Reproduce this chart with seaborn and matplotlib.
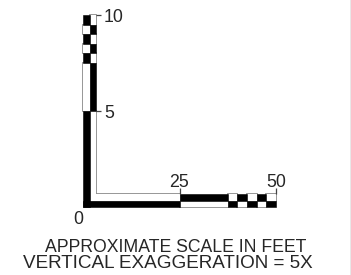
import matplotlib
matplotlib.use("Agg")
import matplotlib.pyplot as plt
import seaborn as sns

# scale bar segments (feet) and fill of the outer / inner strip
v_edges = [0, 5, 7.5, 8, 8.5, 9, 9.5, 10]
v_outer = ["k", "w", "k", "w", "k", "w", "k"]
v_inner = ["w", "k", "w", "k", "w", "k", "w"]

h_edges = [0, 25, 37.5, 40, 42.5, 45, 47.5, 50]
h_outer = ["k", "w", "k", "w", "k", "w", "k"]
h_inner = ["w", "k", "w", "k", "w", "k", "w"]

v_ticks = [5, 10]
h_ticks = [25, 50]
title_lines = ["APPROXIMATE SCALE IN FEET", "VERTICAL EXAGGERATION = 5X"]

sns.set_style("white")
plt.rcParams["font.family"] = ["Liberation Sans", "DejaVu Sans"]

W, H, DPI = 351, 275, 100
px_x, px_y = 3.86, 19.2      # pixels per foot
ox, oy = 83, 68              # origin in pixels from left / bottom
strip_x = 6.5 / px_x         # strip thickness in horizontal feet
strip_y = 6.5 / px_y         # strip thickness in vertical feet

fig = plt.figure(figsize=(W / DPI, H / DPI), dpi=DPI)
aw = 350.5
ax = fig.add_axes([0, 0, aw / W, 1])
ax.set_xlim(-ox / px_x, (aw - ox) / px_x)
ax.set_ylim(-oy / px_y, (H - oy) / px_y)

gray = "#8f8f8f"


def draw_strip(edges, colors, offset, vertical, start):
    for i, (a, b, c) in enumerate(zip(edges[:-1], edges[1:], colors)):
        if i == 0:
            a = start
        for z, ec, lw in ([(1, gray, 1.3), (2, "none", 0)] if c == "w" else [(3, "k", 0.4)]):
            if vertical:
                ax.bar(offset, b - a, bottom=a, width=strip_x, align="edge",
                       color=c, edgecolor=ec, linewidth=lw, zorder=z)
            else:
                ax.barh(offset, b - a, left=a, height=strip_y, align="edge",
                        color=c, edgecolor=ec, linewidth=lw, zorder=z)


draw_strip(v_edges, v_outer, 0, True, 0)
draw_strip(v_edges, v_inner, strip_x, True, strip_y)
draw_strip(h_edges, h_outer, 0, False, 0)
draw_strip(h_edges, h_inner, strip_y, False, strip_x)

bar_right = 2 * strip_x
bar_top = 2 * strip_y
ax.hlines(v_ticks, bar_right, bar_right + 5 / px_x, color="#444", lw=0.9, zorder=4)
ax.vlines(h_ticks, bar_top, bar_top + 6 / px_y, color="#444", lw=0.9, zorder=4)

pt = 72 / DPI
for t in v_ticks:
    ax.annotate(str(t), (bar_right + 5 / px_x, t), xytext=(3 * pt, -6.5 * pt),
                textcoords="offset points", ha="left", va="baseline", fontsize=12.8)
for t in h_ticks:
    ax.annotate(str(t), (t, bar_top + 6 / px_y), xytext=(0, 1 * pt),
                textcoords="offset points", ha="center", va="baseline", fontsize=12.8)
ax.annotate("0", (0, 0), xytext=(-5 * pt, -17 * pt), textcoords="offset points",
            ha="center", va="baseline", fontsize=12.8)

fig.text(175.5 / W, 23 / H, title_lines[0], ha="center", va="baseline", fontsize=12.7)
fig.text(167.5 / W, 7 / H, title_lines[1], ha="center", va="baseline", fontsize=13.6)

ax.set_xticks([])
ax.set_yticks([])
for s in ["left", "top", "bottom"]:
    ax.spines[s].set_visible(False)
ax.spines["right"].set_color("#8a8a8a")
ax.spines["right"].set_linewidth(1.0)

fig.savefig("out.png", dpi=DPI)
